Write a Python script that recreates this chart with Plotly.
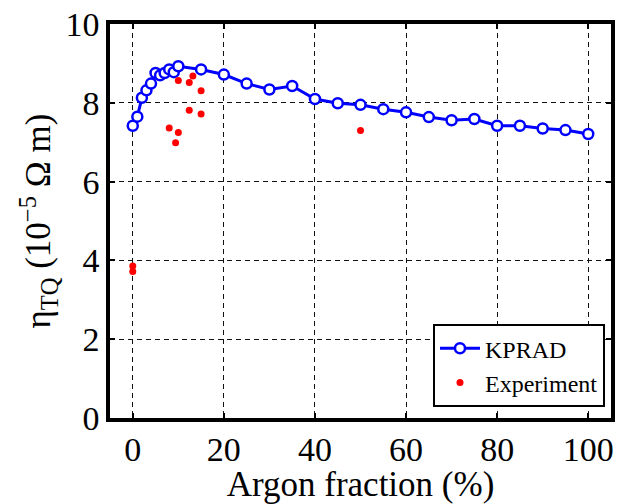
import plotly.graph_objects as go

# KPRAD simulation
kprad_x = [0, 1, 2, 3, 4, 5, 6, 7, 8, 9, 10, 15, 20, 25, 30, 35, 40, 45, 50,
           55, 60, 65, 70, 75, 80, 85, 90, 95, 100]
kprad_y = [7.42, 7.65, 8.13, 8.32, 8.49, 8.76, 8.70, 8.76, 8.85, 8.78, 8.93,
           8.85, 8.72, 8.49, 8.34, 8.43, 8.10, 7.99, 7.95,
           7.84, 7.76, 7.64, 7.56, 7.59, 7.42, 7.42, 7.35, 7.31, 7.21]

# Experiment
exp_x = [0, 0, 8, 9.4, 10, 10, 12.4, 12.4, 13.2, 15, 15, 50]
exp_y = [3.86, 3.72, 7.36, 6.99, 7.25, 8.57, 7.81, 8.52, 8.68, 8.31, 7.72, 7.30]

x_ticks = [0, 20, 40, 60, 80, 100]
y_ticks = [0, 2, 4, 6, 8, 10]

FONT = "Liberation Serif"

fig = go.Figure()
fig.add_trace(go.Scatter(
    x=kprad_x, y=kprad_y, mode="lines+markers", name="KPRAD",
    line=dict(color="#0000FF", width=3),
    marker=dict(symbol="circle", size=10, color="white",
                line=dict(color="#0000FF", width=2.5)),
))
fig.add_trace(go.Scatter(
    x=exp_x, y=exp_y, mode="markers", name="Experiment",
    marker=dict(symbol="circle", size=7, color="#FF0000"),
))

axis_common = dict(
    showline=True, linecolor="black", linewidth=3.5, mirror="ticks",
    ticks="inside", ticklen=5, tickwidth=2, tickcolor="black",
    showgrid=True, gridcolor="#111111", gridwidth=1, griddash="5px,4px",
    zeroline=False,
    tickfont=dict(family=FONT, size=34, color="black"),
)

fig.update_layout(
    width=621, height=504,
    margin=dict(l=110, r=6, t=18, b=86),
    paper_bgcolor="white", plot_bgcolor="white",
    font=dict(family=FONT, color="black"),
    xaxis=dict(range=[-5, 105], tickvals=x_ticks, **axis_common,
               ticklabelstandoff=-2,
               title=dict(text="Argon fraction (%)",
                          font=dict(family=FONT, size=35, color="black"),
                          standoff=5)),
    yaxis=dict(range=[-0.004, 10.004], tickvals=y_ticks, **axis_common),
    showlegend=True,
    legend=dict(x=0.988, y=0.0275, xanchor="right", yanchor="bottom",
                bordercolor="black", borderwidth=2, bgcolor="white",
                font=dict(family=FONT, size=24, color="black"),
                tracegroupgap=0, itemwidth=40),
    annotations=[dict(
        text="η<sub>TQ</sub> (10<sup>−5</sup> Ω m)",
        xref="paper", yref="paper", x=-0.1446, y=0.5,
        xanchor="center", yanchor="middle", textangle=-90, showarrow=False,
        font=dict(family=FONT, size=35, color="black"),
    )],
)

fig.write_html("out.html")
